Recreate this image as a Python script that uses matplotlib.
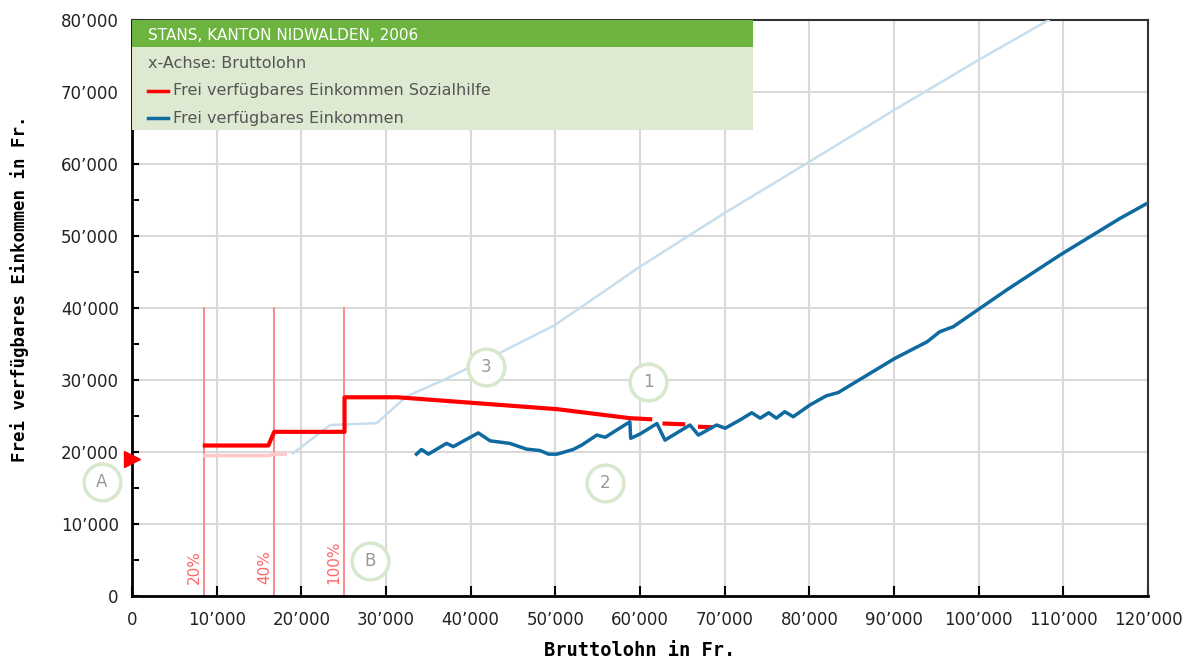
import numpy as np
import matplotlib.pyplot as plt
from matplotlib.ticker import FuncFormatter, MultipleLocator

# Frei verfügbares Einkommen Sozialhilfe (rot)
soz_x = [8600, 16100, 16800, 25100, 25100, 31400, 36500, 50200, 58800, 61200]
soz_y = [20900, 20900, 22800, 22800, 27600, 27600, 27150, 25950, 24700, 24550]
# gestrichelter Auslauf Sozialhilfe
soz_tail_x = [62900, 65100, np.nan, 67100, 68300]
soz_tail_y = [23950, 23850, np.nan, 23500, 23450]

# schwache rote Linie
pink_x = [8600, 16300, 16500, 18100]
pink_y = [19500, 19500, 19700, 19700]

# hellblaue Linie (3)
lb_x = [19000, 23400, 28900, 32400, 36800, 44000, 49900, 55140, 60000, 69940,
        80010, 90030, 99970, 107920, 111000]
lb_y = [19800, 23750, 24000, 27700, 30000, 34100, 37600, 41810, 45740, 53150,
        60320, 67500, 74440, 79760, 82000]

# Frei verfügbares Einkommen (blau)
ein_x = [33600, 34200, 35000, 37150, 37950, 40900, 42300, 44600, 46600, 48200,
         49200, 50200, 52100, 53100, 54900, 55900, 58800, 58900, 60000, 62000,
         62950, 65900, 66900, 69050, 70050, 71800, 73200, 74200, 75200, 76100,
         77100, 78100, 80100, 82000, 83400, 90100, 93900, 95400, 97000, 100150,
         103300, 109600, 116700, 120000]
ein_y = [19700, 20350, 19700, 21200, 20750, 22650, 21550, 21200, 20400, 20200,
         19700, 19700, 20350, 20950, 22350, 22050, 24200, 21900, 22500, 23950,
         21650, 23750, 22350, 23750, 23300, 24440, 25450, 24700, 25450, 24700,
         25600, 24900, 26550, 27800, 28250, 33000, 35300, 36700, 37400, 39950,
         42500, 47350, 52450, 54600]

# Schwellen (vertikale Linien)
grenz_x = [8500, 16800, 25000]
grenz_lbl = ["20%", "40%", "100%"]

# Kreis-Markierungen
kreis_lbl = ["1", "2", "3", "A", "B"]
kreis_x = [60950, 55870, 41810, -3540, 28110]
kreis_y = [29720, 15690, 31800, 15830, 4860]

def tsd(v, pos):
    v = int(round(v))
    if v == 0:
        return "0"
    return f"{v // 1000}\u2019{v % 1000:03d}"

fig = plt.figure(figsize=(11.87, 6.62), dpi=100)
ax = fig.add_axes([132 / 1187, 1 - 596 / 662, 1016 / 1187, 576 / 662])
ax.set_xlim(0, 120000)
ax.set_ylim(0, 80000)

ax.grid(True, color="#d9d9d9", linewidth=1.5, zorder=0)
ax.xaxis.set_major_locator(MultipleLocator(10000))
ax.yaxis.set_major_locator(MultipleLocator(10000))
ax.yaxis.set_minor_locator(MultipleLocator(5000))
ax.xaxis.set_major_formatter(FuncFormatter(tsd))
ax.yaxis.set_major_formatter(FuncFormatter(tsd))
ax.tick_params(axis="x", direction="in", length=7, width=1.5, pad=11,
               labelsize=12, labelcolor="#222222", top=False)
ax.tick_params(axis="y", which="both", direction="in", length=5, width=1.5,
               pad=9.5, labelsize=12, labelcolor="#222222", right=False)
for s in ["left", "bottom"]:
    ax.spines[s].set_linewidth(2)
    ax.spines[s].set_color("black")
for s in ["top", "right"]:
    ax.spines[s].set_linewidth(1.5)
    ax.spines[s].set_color("#333333")

fig.text(640 / 1187, 1 - 651 / 662, "Bruttolohn in Fr.", ha="center", va="center",
         family="DejaVu Sans Mono", weight="bold", fontsize=13.5)
fig.text(20 / 1187, 1 - 289 / 662, "Frei verfügbares Einkommen in Fr.", ha="center",
         va="center", rotation=90, family="DejaVu Sans Mono", weight="bold", fontsize=12.5)

# Schwellenlinien
for gx, gl in zip(grenz_x, grenz_lbl):
    ax.plot([gx, gx], [0, 40000], color="#ff8080", linewidth=1.3, zorder=2)
    ax.text(gx - 1150, 1700, gl, rotation=90, ha="center", va="bottom",
            color="#ff6666", fontsize=11)

ax.plot(lb_x, lb_y, color="#c9deec", linewidth=1.8, zorder=3)
ax.plot(pink_x, pink_y, color="#ffc9c9", linewidth=2.5, zorder=3)
ax.plot(soz_x, soz_y, color="#ff0000", linewidth=3, zorder=4)
ax.plot(soz_tail_x, soz_tail_y, color="#ff0000", linewidth=3, zorder=4)
ax.plot(ein_x, ein_y, color="#0f6aa0", linewidth=2.5, zorder=4)

# roter Pfeil an der y-Achse
ax.plot([0], [19000], marker=">", color="#ff0000", markersize=11, clip_on=False, zorder=6)

# Kreise
ax.scatter(kreis_x, kreis_y, s=700, facecolor="white", edgecolor="#d8e8cc",
           linewidth=2.5, zorder=5, clip_on=False)
for kx, ky, kl in zip(kreis_x, kreis_y, kreis_lbl):
    ax.text(kx, ky, kl, ha="center", va="center", color="#999999", fontsize=12,
            zorder=6, clip_on=False)

# Legendenkasten
ax.add_patch(plt.Rectangle((0, 1 - 110 / 576), 621 / 1016, 110 / 576, transform=ax.transAxes,
                           facecolor="#dde9d0", edgecolor="none", zorder=7))
ax.add_patch(plt.Rectangle((0, 1 - 27 / 576), 621 / 1016, 27 / 576, transform=ax.transAxes,
                           facecolor="#6db33f", edgecolor="none", zorder=8))

def px(x, y):
    return ((x - 132) / 1016, (596 - y) / 576)

ax.text(*px(148, 35), "STANS, KANTON NIDWALDEN, 2006", transform=ax.transAxes,
        color="white", fontsize=11, va="center", zorder=9)
ax.text(*px(148, 63), "x-Achse: Bruttolohn", transform=ax.transAxes,
        color="#555555", fontsize=11.5, va="center", zorder=9)
ax.plot([px(148, 0)[0], px(168, 0)[0]], [px(0, 91)[1]] * 2, transform=ax.transAxes,
        color="#ff0000", linewidth=2.5, zorder=9, clip_on=False)
ax.text(*px(173, 91), "Frei verfügbares Einkommen Sozialhilfe", transform=ax.transAxes,
        color="#555555", fontsize=11.5, va="center", zorder=9)
ax.plot([px(148, 0)[0], px(168, 0)[0]], [px(0, 118)[1]] * 2, transform=ax.transAxes,
        color="#0f6aa0", linewidth=2.5, zorder=9, clip_on=False)
ax.text(*px(173, 118), "Frei verfügbares Einkommen", transform=ax.transAxes,
        color="#555555", fontsize=11.5, va="center", zorder=9)

fig.savefig("out.png", dpi=100)
